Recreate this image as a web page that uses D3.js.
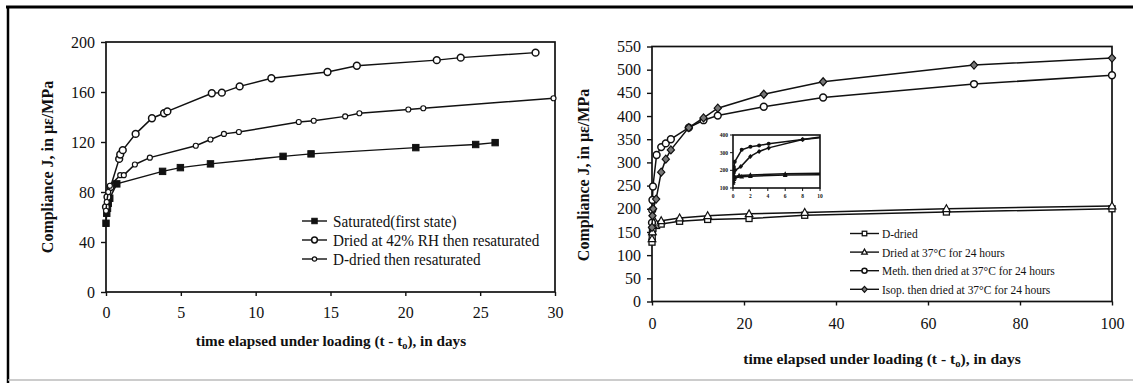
<!DOCTYPE html>
<html><head><meta charset="utf-8">
<script src="https://cdn.jsdelivr.net/npm/d3@7"></script>
<style>body{margin:0;background:#fff}svg{display:block}text{font-family:"Liberation Serif","Times New Roman",serif;fill:#111}</style>
</head><body><svg id="c" width="1133" height="383"></svg>
<script>
// ---- Left chart data (days, compliance µε/MPa)
const leftXTicks = [0,5,10,15,20,25,30];
const leftYTicks = [0,40,80,120,160,200];
const saturated = [[0,55],[0.05,63],[0.1,67],[0.15,71],[0.25,75],[0.72,86.5],[3.78,96.5],[4.97,99.5],[6.98,102.5],[11.83,108.5],[13.7,110.5],[20.7,115.5],[24.7,118],[26,119.5]];
const dried42 = [[0,68],[0.1,76],[0.3,84],[0.88,106.5],[0.95,110],[1.12,113.5],[1.98,126.5],[3.07,139],[3.88,143],[4.1,144.5],[7.07,159],[7.74,159.5],[8.93,164.5],[11.05,171],[14.8,176],[16.76,181],[22.1,185.5],[23.7,187.5],[28.7,191.5]];
const dDriedResat = [[0,65],[0.05,72],[0.15,80],[0.26,85],[0.95,93.5],[1.19,93.5],[1.93,102],[2.93,107.5],[6.0,117],[6.98,122],[7.88,126.5],[8.88,128],[12.88,136],[13.88,137],[15.98,140.5],[16.93,143],[20.2,146],[21.2,147],[29.9,155]];
const leftLegend = ["Saturated(first state)","Dried at 42% RH then resaturated","D-dried then resaturated"];

// ---- Right chart data
const rightXTicks = [0,20,40,60,80,100];
const rightYTicks = [0,50,100,150,200,250,300,350,400,450,500,550];
const dDried = [[0,128],[0.05,139],[0.1,150],[0.2,158],[1,164],[2,167],[6,173],[12.1,177],[21.1,179],[33.2,186],[64,193],[100,200]];
const dried37 = [[0,135],[0.1,150],[0.2,165],[0.7,171],[2,174],[6,180],[12.1,185],[21.1,189],[33.2,192],[64,200],[100,206]];
const meth = [[0,170],[0.05,197],[0.1,219],[0.2,248],[1,316],[2,333],[3,341],[4.1,350],[8,375],[11.2,391],[14.3,401],[24.3,420],[37.2,440],[70,469],[100,488]];
const isop = [[0,160],[0.1,185],[0.25,200],[0.9,221],[2,279],[3,307],[4.1,327],[8,375],[11.2,396],[14.3,417],[24.3,447],[37.2,474],[70,510],[100,525]];
const rightLegend = ["D-dried","Dried at 37°C for 24 hours","Meth. then dried at 37°C for 24 hours","Isop. then dried at 37°C for 24 hours"];
const insetXTicks = [0,2,4,6,8,10];
const insetYTicks = [100,200,300,400];

const svg = d3.select("#c");
// frame
svg.append("line").attr("x1",6).attr("x2",1133).attr("y1",7).attr("y2",7).attr("stroke","#000").attr("stroke-width",3);
svg.append("line").attr("x1",8).attr("x2",8).attr("y1",6).attr("y2",383).attr("stroke","#000").attr("stroke-width",2.5);
svg.append("line").attr("x1",8).attr("x2",1133).attr("y1",380).attr("y2",380).attr("stroke","#bbb").attr("stroke-width",1.5);

function marker(g, type, x, y, s){
  s = s||1;
  if(type==="fsq") g.append("rect").attr("x",x-3.2*s).attr("y",y-3.2*s).attr("width",6.4*s).attr("height",6.4*s).attr("fill","#111").attr("stroke","#111").attr("stroke-width",1);
  else if(type==="osq") g.append("rect").attr("x",x-3*s).attr("y",y-3*s).attr("width",6*s).attr("height",6*s).attr("fill","#fff").attr("stroke","#111").attr("stroke-width",1.3);
  else if(type==="oc") g.append("circle").attr("cx",x).attr("cy",y).attr("r",3.4*s).attr("fill","#fff").attr("stroke","#111").attr("stroke-width",1.5);
  else if(type==="sc") g.append("circle").attr("cx",x).attr("cy",y).attr("r",2.5*s).attr("fill","#fff").attr("stroke","#111").attr("stroke-width",1.2);
  else if(type==="otri") g.append("path").attr("d",`M${x},${y-4*s}L${x+3.8*s},${y+2.8*s}L${x-3.8*s},${y+2.8*s}Z`).attr("fill","#fff").attr("stroke","#111").attr("stroke-width",1.2);
  else if(type==="dia") g.append("path").attr("d",`M${x},${y-4*s}L${x+3.6*s},${y}L${x},${y+4*s}L${x-3.6*s},${y}Z`).attr("fill","#777").attr("stroke","#111").attr("stroke-width",1.2);
  else if(type==="fc") g.append("circle").attr("cx",x).attr("cy",y).attr("r",2*s).attr("fill","#111");
  else if(type==="fdia") g.append("path").attr("d",`M${x},${y-2.5*s}L${x+2.2*s},${y}L${x},${y+2.5*s}L${x-2.2*s},${y}Z`).attr("fill","#111");
  else if(type==="ftri") g.append("path").attr("d",`M${x},${y-2.6*s}L${x+2.4*s},${y+1.8*s}L${x-2.4*s},${y+1.8*s}Z`).attr("fill","#111");
}

function series(g, data, x, y, type, clip){
  const gg = g.append("g");
  if(clip) gg.attr("clip-path",clip);
  gg.append("path").datum(data).attr("d",d3.line().x(d=>x(d[0])).y(d=>y(d[1])))
    .attr("fill","none").attr("stroke","#111").attr("stroke-width",1.5);
  data.forEach(d=>marker(gg,type,x(d[0]),y(d[1])));
}

function frame(g, x, y, xt, yt, fs, xlabOff){
  const [x0,x1]=x.range(), [y0,y1]=y.range();
  g.append("rect").attr("x",x0).attr("y",y1).attr("width",x1-x0).attr("height",y0-y1).attr("fill","none").attr("stroke","#111").attr("stroke-width",1.7);
  const ya = g.append("g").attr("transform",`translate(${x0},0)`).call(d3.axisLeft(y).tickValues(yt).tickSize(5).tickPadding(6).tickFormat(d3.format("d")));
  const xa = g.append("g").attr("transform",`translate(0,${y0})`).call(d3.axisBottom(x).tickValues(xt).tickSize(4).tickPadding(xlabOff).tickFormat(d3.format("d")));
  [ya,xa].forEach(a=>{a.select(".domain").remove();a.selectAll("line").attr("stroke","#111").attr("stroke-width",1.4);
    a.selectAll("text").attr("font-size",fs).style("font-family","'Liberation Serif',serif").attr("fill","#111");});
}

function xTitle(g, cx, y, fs){
  const t = g.append("text").attr("x",cx).attr("y",y).attr("text-anchor","middle").attr("font-size",fs).attr("font-weight","bold");
  t.append("tspan").text("time elapsed under loading (t - t");
  t.append("tspan").attr("font-size",fs*0.68).attr("dy",3).text("o");
  t.append("tspan").attr("dy",-3).text("), in days");
}

// ---------- LEFT CHART
const lx = d3.scaleLinear().domain([0,30]).range([106,555]);
const ly = d3.scaleLinear().domain([0,200]).range([292,42]);
const L = svg.append("g");
frame(L,lx,ly,leftXTicks,leftYTicks,16,11);
series(L,saturated,lx,ly,"fsq");
series(L,dried42,lx,ly,"oc");
series(L,dDriedResat,lx,ly,"sc");
L.append("text").attr("transform","translate(53,167) rotate(-90)").attr("text-anchor","middle").attr("font-size",16).attr("font-weight","bold").text("Compliance J, in με/MPa");
xTitle(L,331,346,15.2);
const lLegTypes = ["fsq","oc","sc"];
leftLegend.forEach((t,i)=>{
  const yy = 221 + i*19;
  L.append("line").attr("x1",302).attr("x2",327).attr("y1",yy).attr("y2",yy).attr("stroke","#111").attr("stroke-width",1.4);
  marker(L,lLegTypes[i],314.5,yy,0.85);
  L.append("text").attr("transform",`translate(333,${yy+5.5}) scale(0.95,1.08)`).attr("font-size",16).text(t);
});

// ---------- RIGHT CHART
const rx = d3.scaleLinear().domain([0,100]).range([652,1112]);
const ry = d3.scaleLinear().domain([0,550]).range([301.5,46.5]);
const R = svg.append("g");
frame(R,rx,ry,rightXTicks,rightYTicks,16,12);
series(R,dDried,rx,ry,"osq");
series(R,dried37,rx,ry,"otri");
series(R,meth,rx,ry,"oc");
series(R,isop,rx,ry,"dia");
R.append("text").attr("transform","translate(589,175) rotate(-90)").attr("text-anchor","middle").attr("font-size",16).attr("font-weight","bold").text("Compliance J, in με/MPa");
xTitle(R,882,364,15.6);
const rLegTypes = ["osq","otri","oc","dia"];
rightLegend.forEach((t,i)=>{
  const yy = 233.5 + i*18.6;
  R.append("line").attr("x1",850).attr("x2",879).attr("y1",yy).attr("y2",yy).attr("stroke","#111").attr("stroke-width",1.4);
  marker(R,rLegTypes[i],864.5,yy,0.75);
  R.append("text").attr("transform",`translate(882,${yy+4.5}) scale(0.85,1)`).attr("font-size",13.5).text(t);
});

// ---------- INSET
const ix = d3.scaleLinear().domain([0,10]).range([733,820]);
const iy = d3.scaleLinear().domain([100,400]).range([188,135]);
const I = svg.append("g");
I.append("defs").append("clipPath").attr("id","ic").append("rect").attr("x",733).attr("y",134).attr("width",87).attr("height",54);
I.append("rect").attr("x",733).attr("y",135).attr("width",87).attr("height",53).attr("fill","#fff").attr("stroke","#111").attr("stroke-width",1.6);
series(I,dDried,ix,iy,"ftri","url(#ic)");
series(I,dried37,ix,iy,"ftri","url(#ic)");
series(I,meth,ix,iy,"fc","url(#ic)");
series(I,isop,ix,iy,"fdia","url(#ic)");
insetYTicks.forEach(v=>{
  I.append("line").attr("x1",730).attr("x2",733).attr("y1",iy(v)).attr("y2",iy(v)).attr("stroke","#111");
  I.append("text").attr("x",728).attr("y",iy(v)+2).attr("text-anchor","end").attr("font-size",5.5).attr("font-weight","bold").text(v);
});
insetXTicks.forEach(v=>{
  I.append("line").attr("x1",ix(v)).attr("x2",ix(v)).attr("y1",188).attr("y2",191).attr("stroke","#111");
  I.append("text").attr("x",ix(v)).attr("y",198).attr("text-anchor","middle").attr("font-size",5.5).attr("font-weight","bold").text(v);
});
</script></body></html>
